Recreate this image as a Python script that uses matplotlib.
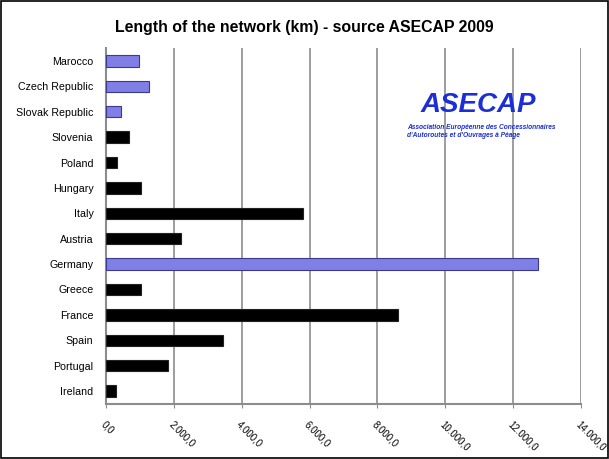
import matplotlib.pyplot as plt
from matplotlib.patches import Rectangle
from matplotlib.ticker import FuncFormatter

plt.rcParams['font.family'] = ['Liberation Sans', 'DejaVu Sans']

countries = ['Ireland', 'Portugal', 'Spain', 'France', 'Greece', 'Germany', 'Austria',
             'Italy', 'Hungary', 'Poland', 'Slovenia', 'Slovak Republic',
             'Czech Republic', 'Marocco']
length_km = [290, 1820, 3440, 8610, 1020, 12740, 2210,
             5800, 1020, 330, 670, 440, 1280, 970]
highlight = ['Germany', 'Slovak Republic', 'Czech Republic', 'Marocco']
x_ticks = [0, 2000, 4000, 6000, 8000, 10000, 12000, 14000]

fig = plt.figure(figsize=(6.09, 4.59), dpi=100)
ax = fig.add_axes([0.174, 0.1205, 0.780, 0.7743])

colors = ['#7f7fe6' if c in highlight else 'black' for c in countries]
edges = ['#3a3a90' if c in highlight else '#222222' for c in countries]
ax.barh(range(len(countries)), length_km, height=0.45, color=colors,
        edgecolor=edges, linewidth=0.8, zorder=3)

ax.set_xlim(0, 14000)
ax.set_ylim(-0.5, len(countries) - 0.5)
ax.set_yticks(range(len(countries)))
ax.set_yticklabels(countries, fontsize=7.7)
ax.set_xticks(x_ticks)


def euro_fmt(v, pos):
    s = f'{v:,.1f}'
    return s.replace(',', 'X').replace('.', ',').replace('X', '.')


ax.xaxis.set_major_formatter(FuncFormatter(euro_fmt))
for lab in ax.get_xticklabels():
    lab.set_rotation(-45)
    lab.set_ha('left')
    lab.set_va('top')
    lab.set_fontsize(7)
    lab.set_rotation_mode('anchor')

ax.grid(axis='x', color='#8c8c8c', linewidth=1.2, zorder=0)
ax.tick_params(axis='y', length=0, pad=9)
ax.tick_params(axis='x', length=3, color='#8c8c8c', pad=8)
for side in ['top', 'right']:
    ax.spines[side].set_visible(False)
for side in ['left', 'bottom']:
    ax.spines[side].set_color('#8c8c8c')
    ax.spines[side].set_linewidth(1.5)

fig.text(0.5, 0.94, 'Length of the network (km) - source ASECAP 2009',
         ha='center', va='center', fontsize=11.4, fontweight='bold')

# logo
fig.text(0.69, 0.771, 'ASECAP', color='#1c2fd6', fontsize=20,
         fontweight='bold', fontstyle='italic', ha='left', va='center')
fig.text(0.668, 0.714, "Association Européenne des Concessionnaires\n"
         "d'Autoroutes et d'Ouvrages à Péage", color='#1c2fd6', fontsize=4.8,
         fontweight='bold', fontstyle='italic', ha='left', va='center',
         linespacing=1.1)

fig.patches.append(Rectangle((0.002, 0.002), 0.996, 0.996, transform=fig.transFigure,
                             fill=False, edgecolor='black', linewidth=1.2))

fig.savefig('out.png', dpi=100)
plt.close()
